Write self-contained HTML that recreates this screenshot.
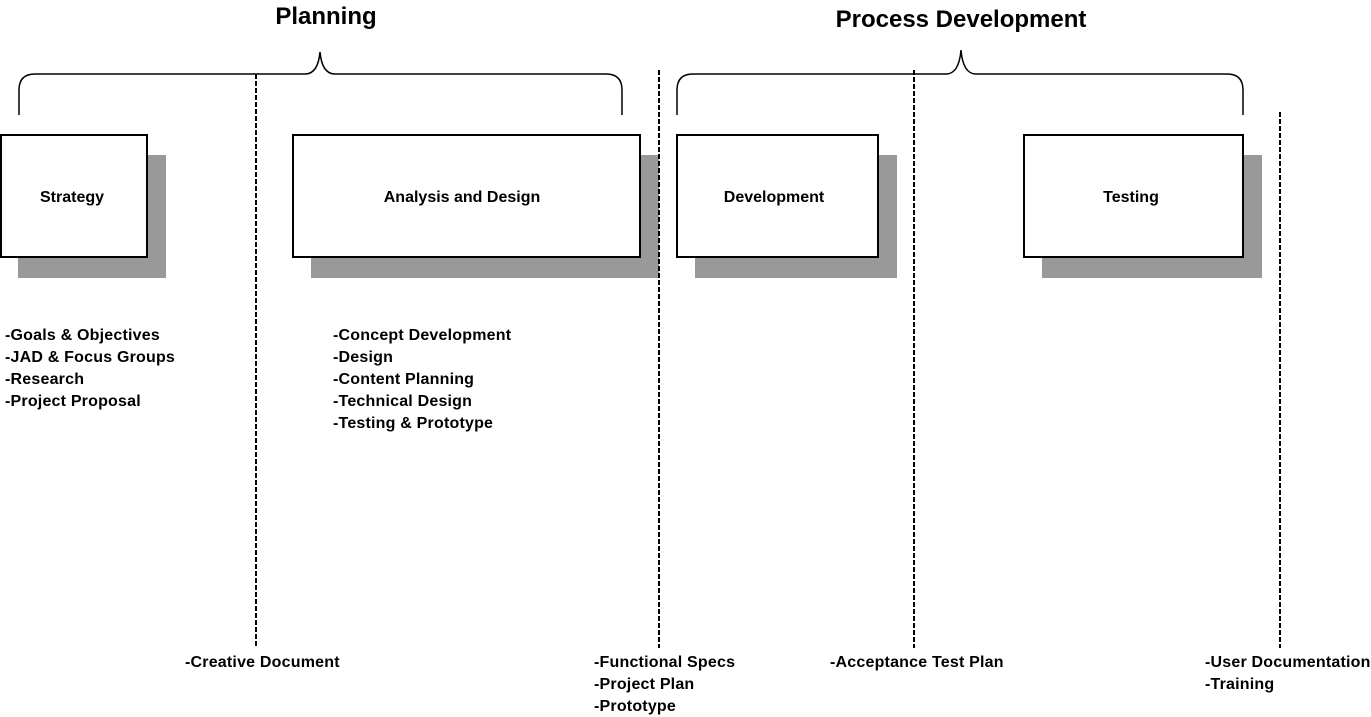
<!DOCTYPE html>
<html><head><style>body{margin:0;background:#fff}svg{display:block}text{font-family:"Liberation Sans",Arial,sans-serif;font-weight:bold;fill:#000}</style></head>
<body>
<svg width="1371" height="717" xmlns="http://www.w3.org/2000/svg">
<g fill="#999">
<rect x="18" y="155" width="148" height="123"/>
<rect x="311" y="155" width="348" height="123"/>
<rect x="695" y="155" width="202" height="123"/>
<rect x="1042" y="155" width="220" height="123"/>
</g>
<g fill="#fff" stroke="#000" stroke-width="2">
<rect x="1" y="135" width="146" height="122"/>
<rect x="293" y="135" width="347" height="122"/>
<rect x="677" y="135" width="201" height="122"/>
<rect x="1024" y="135" width="219" height="122"/>
</g>
<g fill="none" stroke="#000" stroke-width="1.5">
<path d="M19 115 V90 Q19 74 35 74 H305 Q318 74 320 52 Q322 74 335 74 H606 Q622 74 622 90 V115"/>
<path d="M677 115 V90 Q677 74 693 74 H946 Q959 74 961 50 Q963 74 976 74 H1227 Q1243 74 1243 90 V115"/>
</g>
<g stroke="#000" stroke-width="2" stroke-dasharray="5,2">
<line x1="256" y1="74" x2="256" y2="648"/>
<line x1="659" y1="70" x2="659" y2="648"/>
<line x1="914" y1="70" x2="914" y2="648"/>
<line x1="1280" y1="112" x2="1280" y2="648"/>
</g>
<text x="326" y="24" font-size="24" text-anchor="middle">Planning</text>
<text x="961" y="27" font-size="24" text-anchor="middle">Process Development</text>
<g font-size="16" text-anchor="middle">
<text x="72" y="202">Strategy</text>
<text x="462" y="202">Analysis and Design</text>
<text x="774" y="202">Development</text>
<text x="1131" y="202">Testing</text>
</g>
<g font-size="16" letter-spacing="0.2">
<text x="5" y="340">-Goals &amp; Objectives</text>
<text x="5" y="362">-JAD &amp; Focus Groups</text>
<text x="5" y="384">-Research</text>
<text x="5" y="406">-Project Proposal</text>
<text x="333" y="340">-Concept Development</text>
<text x="333" y="362">-Design</text>
<text x="333" y="384">-Content Planning</text>
<text x="333" y="406">-Technical Design</text>
<text x="333" y="428">-Testing &amp; Prototype</text>
<text x="185" y="667">-Creative Document</text>
<text x="594" y="667">-Functional Specs</text>
<text x="594" y="689">-Project Plan</text>
<text x="594" y="711">-Prototype</text>
<text x="830" y="667">-Acceptance Test Plan</text>
<text x="1205" y="667">-User Documentation</text>
<text x="1205" y="689">-Training</text>
</g>
</svg>
</body></html>
